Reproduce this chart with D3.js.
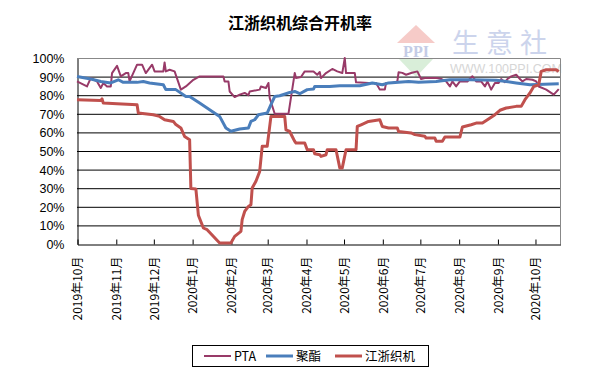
<!DOCTYPE html>
<html>
<head>
<meta charset="utf-8">
<script src="https://cdn.jsdelivr.net/npm/d3@7"></script>
<style>
  body { margin: 0; background: #fff; }
  svg { display: block; }
</style>
</head>
<body>
<svg width="595" height="389"></svg>
<script>
(function () {

	// 日期 / 开机率(%)
	var ptaData = [
		["2019-10-01",87.4],["2019-10-09",84.7],["2019-10-12",89.2],["2019-10-17",87.4],["2019-10-20",83.9],
		["2019-10-22",86.5],["2019-10-25",84.7],["2019-10-28",84.7],["2019-10-29",91.9],["2019-11-02",95.8],
		["2019-11-05",90.1],["2019-11-09",91.9],["2019-11-11",91.9],["2019-11-12",87.4],["2019-11-18",96.4],
		["2019-11-22",96.4],["2019-11-25",91.9],["2019-11-30",96.4],["2019-12-02",92.8],["2019-12-09",92.8],
		["2019-12-10",97.6],["2019-12-11",92.8],["2019-12-14",93.7],["2019-12-18",92.8],["2019-12-23",83.0],
		["2019-12-27",84.7],["2020-01-02",88.3],["2020-01-07",90.1],["2020-01-26",90.1],["2020-01-27",87.4],
		["2020-01-30",87.4],["2020-01-31",82.0],["2020-02-04",79.0],["2020-02-08",80.3],["2020-02-12",81.2],
		["2020-02-15",80.0],["2020-02-16",82.0],["2020-02-24",83.0],["2020-02-25",84.7],["2020-02-29",83.9],
		["2020-03-02",86.6],["2020-03-03",78.5],["2020-03-07",70.0],["2020-03-18",70.0],["2020-03-23",91.9],
		["2020-03-24",89.2],["2020-03-28",89.8],["2020-03-31",92.8],["2020-04-07",92.8],["2020-04-10",91.0],
		["2020-04-12",92.5],["2020-04-13",89.2],["2020-04-17",91.9],["2020-04-22",94.1],["2020-04-26",92.8],
		["2020-04-30",91.9],["2020-05-02",100],["2020-05-03",91.9],["2020-05-10",91.9],["2020-05-11",86.9],
		["2020-05-21",86.6],["2020-05-27",86.6],["2020-05-30",83.0],["2020-06-03",83.0],["2020-06-04",86.6],
		["2020-06-09",86.6],["2020-06-13",87.4],["2020-06-14",92.3],["2020-06-17",92.0],["2020-06-20",91.0],
		["2020-06-24",91.9],["2020-06-29",92.8],["2020-07-02",88.7],["2020-07-05",89.2],["2020-07-15",89.2],
		["2020-07-18",88.7],["2020-07-22",87.4],["2020-07-25",84.7],["2020-07-27",87.4],["2020-07-30",84.7],
		["2020-08-02",87.4],["2020-08-08",87.4],["2020-08-12",90.2],["2020-08-15",87.4],["2020-08-19",87.4],
		["2020-08-22",84.7],["2020-08-24",87.4],["2020-08-27",83.0],["2020-08-30",86.6],["2020-09-02",86.6],
		["2020-09-04",88.7],["2020-09-07",87.0],["2020-09-09",88.7],["2020-09-12",90.1],["2020-09-16",91.0],
		["2020-09-19",88.7],["2020-09-21",87.4],["2020-09-24",88.7],["2020-09-29",88.3],["2020-10-02",87.4],
		["2020-10-04",84.7],["2020-10-10",83.0],["2020-10-16",80.3],["2020-10-20",83.3]
	];

	var polyesterData = [
		["2019-10-01",90.1],["2019-10-12",88.7],["2019-10-20",87.4],["2019-10-28",86.6],["2019-11-03",88.3],
		["2019-11-07",86.9],["2019-11-18",86.9],["2019-11-23",87.4],["2019-11-28",86.6],["2019-12-09",85.6],
		["2019-12-11",83.0],["2019-12-19",83.0],["2019-12-27",79.3],["2019-12-30",79.3],["2020-01-07",75.8],
		["2020-01-23",68.6],["2020-01-28",62.4],["2020-02-01",60.6],["2020-02-08",61.8],["2020-02-15",62.4],
		["2020-02-17",65.9],["2020-02-20",66.8],["2020-02-23",69.5],["2020-03-01",70.4],["2020-03-04",74.9],
		["2020-03-07",79.3],["2020-03-11",79.7],["2020-03-16",80.8],["2020-03-19",81.5],["2020-03-23",82.0],
		["2020-03-27",80.8],["2020-04-02",83.0],["2020-04-07",83.3],["2020-04-08",84.7],["2020-04-20",84.7],
		["2020-04-28",85.1],["2020-05-14",85.1],["2020-05-24",86.6],["2020-06-01",85.6],["2020-06-06",86.6],
		["2020-06-22",87.4],["2020-06-30",86.9],["2020-07-14",87.4],["2020-07-25",88.3],["2020-08-10",88.3],
		["2020-08-31",88.0],["2020-09-08",87.4],["2020-09-16",86.6],["2020-09-27",85.6],["2020-10-20",86.2]
	];

	var loomData = [
		["2019-10-01",77.6],["2019-10-20",77.2],["2019-10-21",78.0],["2019-10-22",75.8],["2019-11-02",75.4],
		["2019-11-18",74.9],["2019-11-19",70.4],["2019-12-01",69.5],["2019-12-06",68.6],["2019-12-10",66.8],
		["2019-12-17",65.9],["2019-12-19",64.2],["2019-12-23",62.4],["2019-12-26",57.8],["2019-12-30",56.1],
		["2019-12-31",29.8],["2020-01-04",29.6],["2020-01-06",15.5],["2020-01-10",8.6],["2020-01-13",7.7],
		["2020-01-23",0.5],["2020-02-01",0.5],["2020-02-04",4.1],["2020-02-09",6.8],["2020-02-10",13.1],
		["2020-02-12",17.5],["2020-02-15",20.2],["2020-02-17",21.1],["2020-02-18",30.1],["2020-02-21",33.7],
		["2020-02-24",39.0],["2020-02-26",52.5],["2020-03-01",52.5],["2020-03-04",68.6],["2020-03-15",68.6],
		["2020-03-16",61.4],["2020-03-19",60.5],["2020-03-21",57.8],["2020-03-23",55.2],["2020-03-24",54.3],
		["2020-03-31",54.3],["2020-04-02",50.7],["2020-04-07",50.7],["2020-04-08",48.5],["2020-04-12",48.0],
		["2020-04-13",47.1],["2020-04-17",48.0],["2020-04-18",50.7],["2020-04-25",50.7],["2020-04-28",40.9],
		["2020-04-30",40.9],["2020-05-03",50.7],["2020-05-11",50.7],["2020-05-12",63.2],["2020-05-15",64.1],
		["2020-05-21",65.9],["2020-05-30",66.8],["2020-06-01",63.2],["2020-06-06",62.4],["2020-06-13",62.4],
		["2020-06-14",60.5],["2020-06-24",59.7],["2020-06-27",58.8],["2020-07-05",57.9],["2020-07-06",57.0],
		["2020-07-13",57.0],["2020-07-14",55.2],["2020-07-19",55.2],["2020-07-21",57.5],["2020-08-02",57.5],
		["2020-08-04",62.9],["2020-08-11",64.1],["2020-08-15",65.0],["2020-08-20",65.0],["2020-08-24",66.8],
		["2020-08-30",69.5],["2020-09-03",71.9],["2020-09-08",73.1],["2020-09-16",74.0],["2020-09-20",74.0],
		["2020-09-23",77.6],["2020-09-27",81.2],["2020-09-30",84.7],["2020-10-04",85.6],["2020-10-06",92.8],
		["2020-10-10",93.7],["2020-10-18",93.7],["2020-10-20",92.8]
	];

	var monthTicks = ["2019-10-01","2019-11-01","2019-12-01","2020-01-01","2020-02-01","2020-03-01",
		"2020-04-01","2020-05-01","2020-06-01","2020-07-01","2020-08-01","2020-09-01","2020-10-01"];
	var yTicks = [0, 10, 20, 30, 40, 50, 60, 70, 80, 90, 100];

	var seriesNames = ["PTA", "聚酯", "江浙织机"];
	var seriesColors = ["#983a68", "#4a7ebb", "#c0504d"];
	var seriesWidths = [2, 3, 3];

	var parse = d3.timeParse("%Y-%m-%d");
	var left = 77, right = 560, top = 58, bottom = 244;

	var x = d3.scaleTime()
		.domain([parse("2019-10-01"), parse("2020-10-21")])
		.range([left, right]);
	var y = d3.scaleLinear().domain([0, 100]).range([bottom, top]);

	var svg = d3.select("svg");

	svg.append("text")
		.attr("x", 300).attr("y", 29)
		.attr("text-anchor", "middle")
		.attr("font-family", "'Noto Sans CJK SC', sans-serif")
		.attr("font-size", 16).attr("font-weight", "bold")
		.text("江浙织机综合开机率");

	// watermark
	var wm = svg.append("g");
	wm.append("path")
		.attr("d", "M397,43 L416,25 L435,43 Z")
		.attr("fill", "#f6cbc8");
	wm.append("text")
		.attr("x", 416).attr("y", 57)
		.attr("text-anchor", "middle")
		.attr("font-family", "'Liberation Serif', serif")
		.attr("font-size", 16).attr("font-weight", "bold")
		.attr("fill", "#c4cce6")
		.text("PPI");
	wm.append("path")
		.attr("d", "M399,59 L433,59 L416,77 Z")
		.attr("fill", "#d9eed9");
	wm.append("text")
		.attr("x", 452).attr("y", 53)
		.attr("font-family", "'Noto Sans CJK SC', sans-serif")
		.attr("font-size", 27)
		.attr("letter-spacing", 7)
		.attr("fill", "#ccd4ec")
		.text("生意社");
	wm.append("text")
		.attr("x", 450).attr("y", 73)
		.attr("font-family", "'Liberation Sans', sans-serif")
		.attr("font-size", 12.5)
		.attr("fill", "#d6d6d6")
		.text("WWW.100PPI.COM");

	// gridlines
	svg.append("g")
		.selectAll("line")
		.data(yTicks.filter(function (d) { return d > 0 && d < 100; }))
		.enter().append("line")
		.attr("x1", left).attr("x2", right)
		.attr("y1", function (d) { return y(d) + 0.5; })
		.attr("y2", function (d) { return y(d) + 0.5; })
		.attr("stroke", "#000").attr("stroke-width", 1);

	// plot border (top, right) gray
	svg.append("path")
		.attr("d", "M" + left + "," + (top + 0.5) + "H" + (right + 0.5) + "V" + (bottom + 0.5))
		.attr("fill", "none").attr("stroke", "#888").attr("stroke-width", 1);

	// y axis
	var yAxis = svg.append("g")
		.attr("transform", "translate(" + (left + 0.5) + ",0.5)")
		.call(d3.axisLeft(y).tickValues(yTicks).tickSize(0).tickPadding(13)
			.tickFormat(function (d) { return d + "%"; }));
	yAxis.select(".domain").attr("stroke", "#000");
	yAxis.selectAll("text")
		.attr("font-family", "'Liberation Sans', sans-serif")
		.attr("font-size", 12.5).attr("fill", "#000");

	// x axis, ticks pointing inward
	var xAxis = svg.append("g")
		.attr("transform", "translate(0.5," + (bottom + 0.5) + ")")
		.call(d3.axisBottom(x).tickValues(monthTicks.map(parse)).tickSizeInner(-5).tickSizeOuter(0)
			.tickFormat(d3.timeFormat("%Y年%-m月")));
	xAxis.select(".domain").attr("stroke", "#000");
	xAxis.selectAll(".tick line").attr("stroke", "#000");
	xAxis.selectAll("text")
		.attr("font-family", "'Noto Sans CJK SC', sans-serif")
		.attr("font-size", 12).attr("fill", "#000")
		.attr("text-anchor", "end")
		.attr("dy", "0.35em")
		.attr("transform", "translate(0,12) rotate(-90)")
		.attr("x", 0).attr("y", 0);

	// lines
	var line = d3.line()
		.x(function (d) { return x(parse(d[0])); })
		.y(function (d) { return y(d[1]); });

	var allData = [ptaData, polyesterData, loomData];
	svg.append("g")
		.selectAll("path")
		.data(allData)
		.enter().append("path")
		.attr("d", line)
		.attr("fill", "none")
		.attr("stroke", function (d, i) { return seriesColors[i]; })
		.attr("stroke-width", function (d, i) { return seriesWidths[i]; })
		.attr("stroke-linejoin", "round");

	// legend
	var legend = svg.append("g");
	legend.append("rect")
		.attr("x", 192.5).attr("y", 345.5).attr("width", 236).attr("height", 21)
		.attr("fill", "#fff").attr("stroke", "#000");
	var legendX = [204, 266, 335];
	var items = legend.selectAll("g.item")
		.data(seriesNames)
		.enter().append("g")
		.attr("transform", function (d, i) { return "translate(" + legendX[i] + ",356)"; });
	items.append("line")
		.attr("x1", 0).attr("x2", 27)
		.attr("stroke", function (d, i) { return seriesColors[i]; })
		.attr("stroke-width", function (d, i) { return i === 0 ? 2 : 3; });
	items.append("text")
		.attr("x", 30).attr("dy", "0.38em")
		.attr("font-family", "'Noto Sans CJK SC', sans-serif")
		.attr("font-size", 12.5)
		.text(function (d) { return d; });

})();
</script>
</body>
</html>
